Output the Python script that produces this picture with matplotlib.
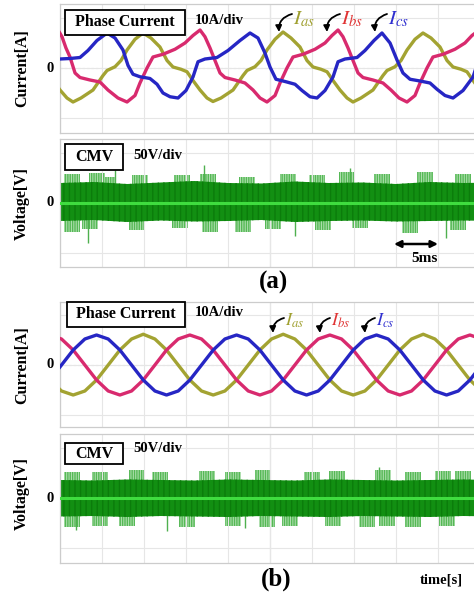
import matplotlib
matplotlib.use('Agg')
import matplotlib.pyplot as plt
from matplotlib.patches import Rectangle, FancyArrowPatch

plt.rcParams['font.family'] = ['Liberation Serif', 'DejaVu Serif']
plt.rcParams['mathtext.fontset'] = 'stix'
plt.rcParams['hatch.linewidth'] = 1.0

# ---------------- data (a): distorted phase currents [ms], [A] ----------------
ias_a_t = [-0.83, 0, 0.83, 1.55, 2.50, 3.93, 5.12, 5.60, 6.55, 7.26, 7.98, 8.93, 9.88,
           10.83, 11.90, 12.74, 13.45, 14.40, 15.12, 15.83, 16.67, 17.50, 18.21,
           19.17, 20.60, 21.79, 22.26, 23.21, 23.93, 24.64, 25.60, 26.55,
           27.50, 28.57, 29.40, 30.12, 31.07, 31.79, 32.50, 33.33, 34.17, 34.88,
           35.83, 37.26, 38.45, 38.93, 39.88, 40.60, 41.31, 42.26, 43.21,
           44.17, 45.24, 46.07, 46.79, 47.74, 48.45, 49.17, 50.00]
ias_a = [-5, -8.8, -12, -13.6, -12, -8.8, -3, -1, 0.5, 3, 7.2, 11.5, 14,
         12, 8.4, 3, 0.4, -0.5, -1.5, -5, -8.8, -12, -13.4,
         -12, -8.8, -3, -1, 0.5, 3, 7.2, 11.5, 14.4,
         12, 8.4, 3, 0.4, -0.5, -1.5, -5, -8.8, -12, -13.6,
         -12, -8.8, -3, -1, 0.5, 3, 7.2, 11.5, 14,
         12, 8.4, 3, 0.4, -0.5, -1.5, -5, -8.8]

ibs_a_t = [-0.60, -0.24, 0.24, 0.71, 1.19, 1.79, 2.38, 3.57, 4.76, 5.71, 6.90, 7.98,
           8.93, 9.52, 10.36, 11.07, 12.26, 13.69, 14.88, 15.83, 16.67,
           17.26, 17.86, 18.45, 19.05, 19.64, 20.83, 22.02, 22.98, 23.81, 24.64,
           25.60, 26.19, 27.02, 27.74, 28.93, 30.36, 31.55, 32.38, 33.10,
           33.69, 34.29, 34.88, 35.48, 36.07, 37.26, 38.45, 39.40, 40.36, 41.31,
           42.26, 42.86, 43.69, 44.40, 45.60, 47.02, 48.21, 49.05, 49.76, 50.36]
ibs_a = [13, 15.2, 12.5, 8, 4.4, -2, -3.8, -4.8, -5.6, -8.8, -12, -13.6,
         -11, -6, 0, 4.4, 5.5, 7.5, 10, 13, 15.2,
         12.5, 8, 3, -2, -3.8, -4.8, -6, -8.8, -12, -13.6,
         -11, -6, 0, 4.4, 5.5, 7.5, 10, 13, 15.2,
         12.5, 8, 3, -2, -3.8, -4.8, -6, -8.8, -12, -13.6,
         -11, -6, 0, 4.4, 5.5, 7.5, 10, 13, 14.8, 12.5]

ics_a_t = [-0.60, 0, 1.19, 2.38, 3.33, 4.40, 5.60, 6.55, 7.50, 8.10, 8.69, 9.52,
           10.71, 11.55, 12.26, 13.10, 14.05, 15.00, 15.83, 16.43, 17.26, 18.69,
           20.00, 21.43, 22.62, 23.57, 24.40, 25.00, 25.71, 26.90, 27.98, 28.81,
           29.76, 30.60, 31.55, 32.50, 33.10, 33.93, 35.36, 36.31, 37.38, 38.33,
           39.29, 40.12, 40.83, 41.67, 42.86, 44.05, 44.88, 45.83, 46.79, 47.98,
           49.17, 49.76, 50.60]
ics_a = [3.4, 3.6, 3.8, 4.2, 7, 11, 14, 12, 7.2, 1, -2.5, -3.5,
         -4.2, -6.5, -10, -11.5, -12, -9, -3.6, 2.5, 3.6, 4.2,
         7, 11, 14, 12, 6, 0.4, -4.5, -5.5, -6.5, -9,
         -11.5, -12, -9, -3.6, 2.5, 3.6, 4.2, 7, 11, 14,
         10, 3.2, -2, -4.5, -5.2, -6, -8.5, -11, -12, -9,
         -3.6, 2.5, 3.6]

# ---------------- data (b): sinusoidal phase currents [ms], [A] ----------------
t_b = [-1.21, 0.18, 1.57, 2.96, 4.35, 5.74, 7.13, 8.52, 9.91, 11.30, 12.68, 14.07,
       15.46, 16.85, 18.24, 19.63, 21.02, 22.41, 23.80, 25.18, 26.57, 27.96,
       29.35, 30.74, 32.13, 33.52, 34.91, 36.30, 37.68, 39.07, 40.46, 41.85,
       43.24, 44.63, 46.02, 47.41, 48.80, 50.19]
ics_b = [-6, 0, 6, 10.4, 12, 10.4, 6, 0, -6, -10.4, -12, -10.4, -6, 0, 6, 10.4,
         12, 10.4, 6, 0, -6, -10.4, -12, -10.4, -6, 0, 6, 10.4,
         12, 10.4, 6, 0, -6, -10.4, -12, -10.4, -6, 0]
ias_b = [-6, -10.4, -12, -10.4, -6, 0, 6, 10.4, 12.3, 10.4, 6, 0, -6, -10.4, -12, -10.4,
         -6, 0, 6, 10.4, 12.3, 10.4, 6, 0, -6, -10.4, -12, -10.4,
         -6, 0, 6, 10.4, 12.3, 10.4, 6, 0, -6, -10.4]
ibs_b = [12, 10.4, 6, 0, -6, -10.4, -12, -10.4, -6, 0, 6, 10.4, 12, 10.4, 6, 0,
         -6, -10.4, -12, -10.4, -6, 0, 6, 10.4, 12, 10.4, 6, 0,
         -6, -10.4, -12, -10.4, -6, 0, 6, 10.4, 12, 10.4]

# ---------------- data: common-mode voltage [ms], [V] ----------------
band_t = [0, 4, 8, 12, 16, 20, 24, 28, 32, 36, 40, 44, 48, 52]
cmv_a_hi = [40, 42, 38, 41, 44, 40, 39, 43, 40, 41, 38, 42, 40, 41]
cmv_a_lo = [-36, -34, -38, -35, -37, -36, -34, -38, -36, -35, -37, -36, -35, -36]
cmv_a_up_t = [1.39, 4.37, 5.56, 9.52, 14.48, 17.66, 22.22, 27.18, 30.56, 34.13, 38.29, 43.45, 48.02]
cmv_a_up = [59, 60, 53, 56, 56, 58, 53, 59, 56, 63, 59, 63, 59]
cmv_a_dn_t = [1.39, 3.57, 9.13, 14.29, 17.86, 21.83, 25.40, 31.35, 35.71, 41.67, 47.42]
cmv_a_dn = [-57, -52, -54, -50, -57, -57, -52, -54, -50, -60, -54]
cmv_a_sp_t = [3.37, 17.2, 34.5, 46.0, 6.5, 28.0]
cmv_a_sp = [-80, 76, 70, -70, 66, -66]

cmv_b_hi = [36, 35, 37, 36, 35, 37, 36, 35, 37, 36, 35, 36, 37, 36]
cmv_b_lo = [-37, -36, -38, -36, -37, -38, -36, -37, -38, -36, -37, -38, -36, -37]
cmv_b_up_t = [1.39, 4.76, 9.13, 11.90, 17.46, 20.63, 24.21, 29.96, 32.94, 38.49, 42.06, 45.63, 48.02]
cmv_b_up = [53, 52, 56, 53, 55, 53, 56, 53, 55, 56, 53, 54, 55]
cmv_b_dn_t = [1.39, 4.76, 7.94, 15.08, 20.63, 24.60, 27.38, 32.54, 36.51, 38.89, 42.06, 46.03]
cmv_b_dn = [-57, -55, -56, -57, -55, -57, -56, -55, -57, -56, -57, -55]
cmv_b_sp_t = [1.9, 12.7, 38.0, 22.0]
cmv_b_sp = [-64, -66, 62, -60]

# ---------------- styling ----------------
W, H = 474, 593
C_Y, C_R, C_B = '#a3a332', '#d82a6e', '#2626c4'
L_Y, L_R, L_B = '#a0a030', '#e03434', '#3030d0'
G_DARK, G_CORE, G_LIGHT = '#128f12', '#3fdc3f', '#55b855'

fig = plt.figure(figsize=(W / 100, H / 100), dpi=100)
fig.patch.set_facecolor('white')


def fx(x):
    return x / W


def fy(y):
    return 1 - y / H


def make_axes(top, bottom, ylim, yt):
    ax = fig.add_axes([fx(60), fy(bottom), 420 / W, (bottom - top) / H])
    ax.set_xlim(0, 50)
    ax.set_ylim(*ylim)
    ax.set_xticks(range(0, 51, 5))
    ax.set_yticks(yt)
    ax.tick_params(length=0, labelbottom=False, labelleft=False)
    ax.grid(True, color='#e6e6e6', lw=0.8, zorder=0)
    ax.axvline(25, color='#bcbcbc', lw=0.8, zorder=0)
    ax.axhline(0, color='#cccccc', lw=0.8, ls=(0, (2, 2)), zorder=0)
    for s in ax.spines.values():
        s.set_color('#cccccc')
        s.set_linewidth(0.9)
    return ax


def draw_currents(ax, series):
    for t, v, c in series:
        ax.plot(t, v, color=c, lw=2.4, solid_joinstyle='round', zorder=3)


def draw_cmv(ax, hi, lo, up_t, up, dn_t, dn, sp_t, sp):
    for tt, hh in [(up_t, up), (dn_t, dn)]:
        ax.bar(tt, hh, width=1.9, bottom=0, facecolor='#b2e0b2', edgecolor=G_LIGHT,
               linewidth=0, hatch='|||||||', zorder=1)
    ax.vlines(sp_t, 0, sp, color='#4fb04f', lw=1.0, zorder=1)
    ax.fill_between(band_t, lo, hi, facecolor=G_DARK, edgecolor='#0b7c0b',
                    linewidth=0, hatch='|||', zorder=2)
    ax.axhline(0, color=G_CORE, lw=2.2, zorder=3)


def box_label(x0, y0, x1, y1, text):
    fig.add_artist(Rectangle((fx(x0), fy(y1)), (x1 - x0) / W, (y1 - y0) / H,
                             transform=fig.transFigure, fc='white', ec='black', lw=1.3, zorder=5))
    fig.text(fx((x0 + x1) / 2), fy((y0 + y1) / 2), text, ha='center', va='center',
             fontsize=11.5, fontweight='bold', zorder=6)


def phase_labels(items, ylab, ytail, ytip, size):
    for (xl, xt, c, name) in items:
        fig.text(fx(xl + 1), fy(ylab), name, color=c, fontsize=size, ha='left', va='center', zorder=6)
        fig.add_artist(FancyArrowPatch(
            (fx(xl), fy(ytail)), (fx(xt), fy(ytip)), transform=fig.transFigure,
            arrowstyle='-|>', mutation_scale=9, lw=1.3, color='black',
            connectionstyle='arc3,rad=0.4', shrinkA=0, shrinkB=0, zorder=6))


# ---- panel (a) currents ----
ax1 = make_axes(4, 133, (-26, 25.6), [-20, 0, 20])
draw_currents(ax1, [(ias_a_t, ias_a, C_Y), (ibs_a_t, ibs_a, C_R), (ics_a_t, ics_a, C_B)])
box_label(65, 10, 185, 35, 'Phase Current')
fig.text(fx(195), fy(20), '10A/div', fontsize=10.5, fontweight='bold', va='center')
phase_labels([(292, 279, L_Y, r'$I_{as}$'), (340, 327, L_R, r'$I_{bs}$'),
              (387, 375, L_B, r'$I_{cs}$')], 19, 14, 32, 15)

# ---- panel (a) CMV ----
ax2 = make_axes(139, 267, (-128, 128), [-100, 0, 100])
draw_cmv(ax2, cmv_a_hi, cmv_a_lo, cmv_a_up_t, cmv_a_up, cmv_a_dn_t, cmv_a_dn, cmv_a_sp_t, cmv_a_sp)
box_label(65, 144, 123, 170, 'CMV')
fig.text(fx(133), fy(155), '50V/div', fontsize=10.5, fontweight='bold', va='center')
fig.add_artist(FancyArrowPatch(
    (fx(394), fy(244)), (fx(438), fy(244)), transform=fig.transFigure,
    arrowstyle='<|-|>', mutation_scale=10, lw=1.8, color='black', shrinkA=0, shrinkB=0))
fig.text(fx(424), fy(259), '5ms', fontsize=11, fontweight='bold', ha='center', va='center')
fig.text(fx(273), fy(282), '(a)', fontsize=18, fontweight='bold', ha='center', va='center')

# ---- panel (b) currents ----
ax3 = make_axes(302, 427, (-24.8, 25.2), [-20, 0, 20])
draw_currents(ax3, [(t_b, ias_b, C_Y), (t_b, ibs_b, C_R), (t_b, ics_b, C_B)])
box_label(67, 302, 185, 327, 'Phase Current')
fig.text(fx(195), fy(313), '10A/div', fontsize=10.5, fontweight='bold', va='center')
phase_labels([(284, 273, L_Y, r'$I_{as}$'), (330, 320, L_R, r'$I_{bs}$'),
              (375, 365, L_B, r'$I_{cs}$')], 321, 318, 333, 13)

# ---- panel (b) CMV ----
ax4 = make_axes(434, 563, (-130, 128), [-100, 0, 100])
draw_cmv(ax4, cmv_b_hi, cmv_b_lo, cmv_b_up_t, cmv_b_up, cmv_b_dn_t, cmv_b_dn, cmv_b_sp_t, cmv_b_sp)
box_label(65, 443, 123, 464, 'CMV')
fig.text(fx(133), fy(448), '50V/div', fontsize=10.5, fontweight='bold', va='center')
fig.text(fx(276), fy(579), '(b)', fontsize=18, fontweight='bold', ha='center', va='center')
fig.text(fx(441), fy(580), 'time[s]', fontsize=10.5, fontweight='bold', ha='center', va='center')

# ---- y labels and zero marks ----
for yc, lab in [(68, 'Current[A]'), (203, 'Voltage[V]'), (365, 'Current[A]'), (494, 'Voltage[V]')]:
    fig.text(fx(22), fy(yc), lab, rotation=90, fontsize=11.5, fontweight='bold',
             ha='center', va='center')
for yz in [68, 203, 365, 498]:
    fig.text(fx(50), fy(yz), '0', fontsize=10.5, fontweight='bold', ha='center', va='center')

fig.savefig('out.png', dpi=100)
